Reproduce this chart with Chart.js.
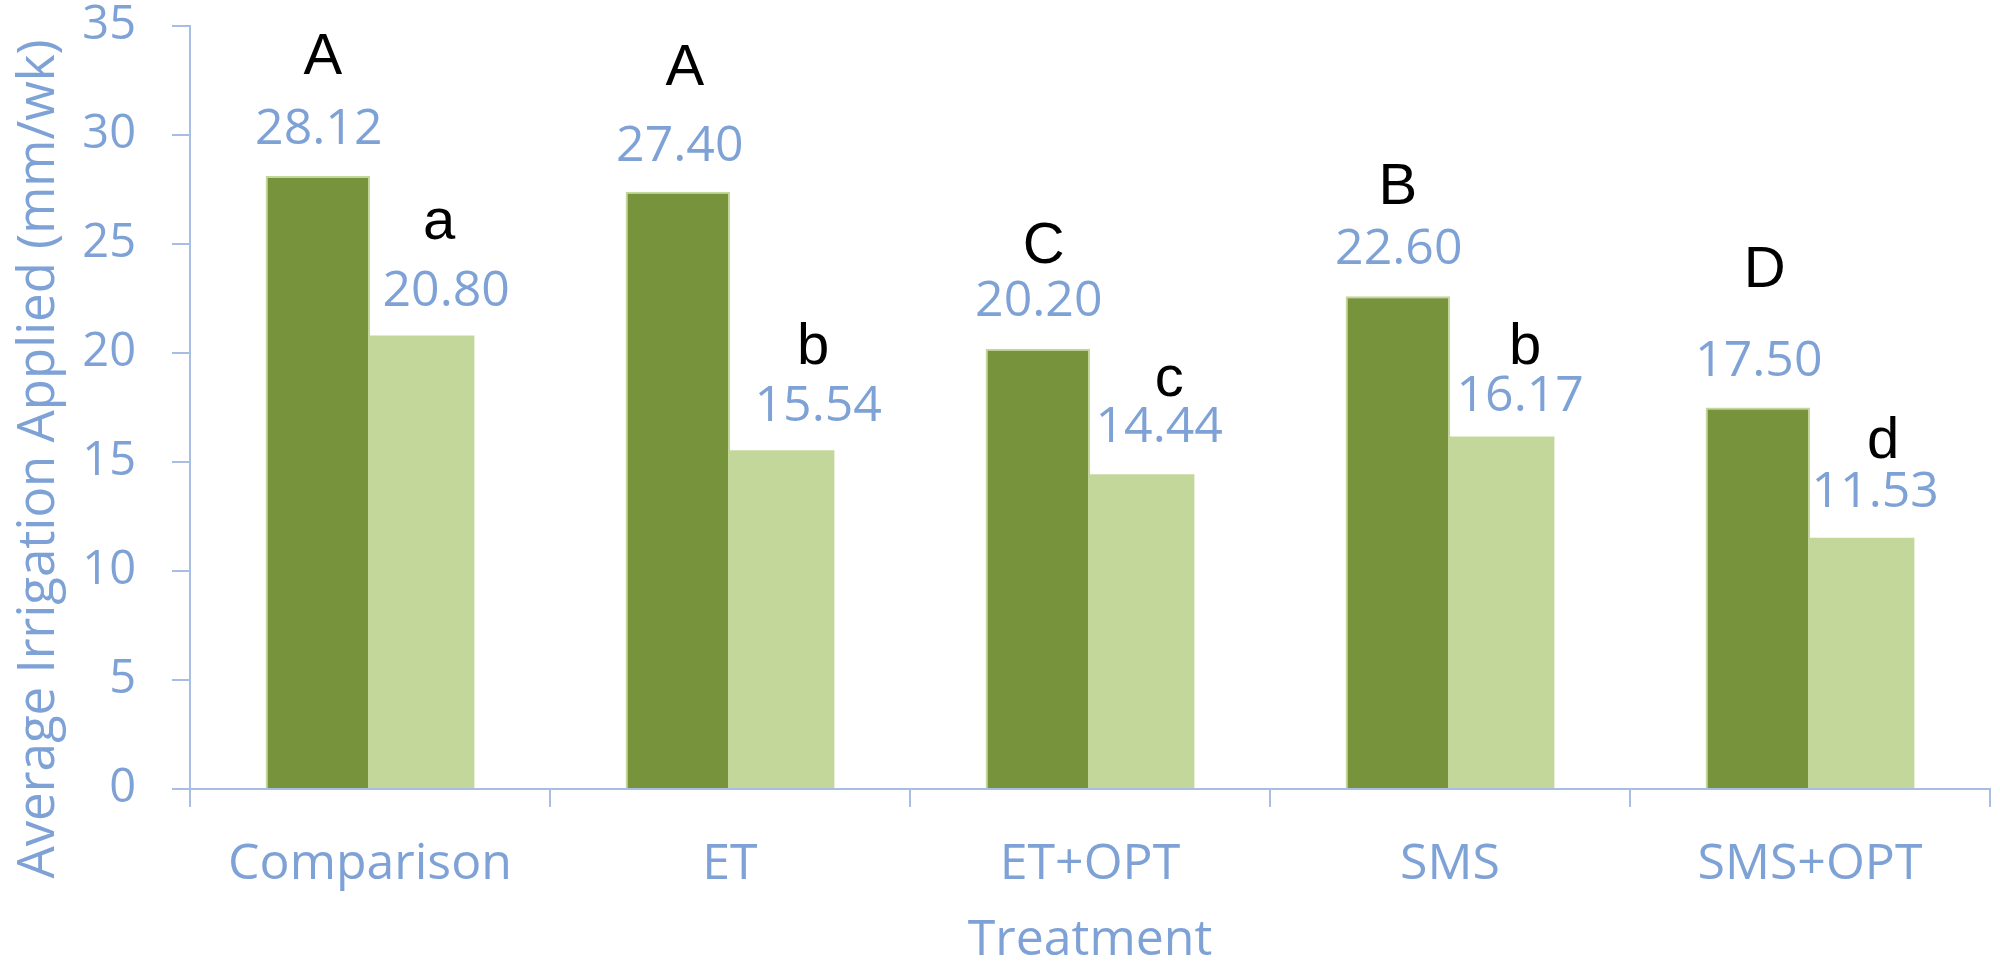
<!DOCTYPE html>
<html>
<head>
<meta charset="utf-8">
<script src="https://cdn.jsdelivr.net/npm/chart.js@4/dist/chart.umd.min.js"></script>
<style>
  html, body { margin: 0; padding: 0; background: #fff; }
  #wrap { width: 2000px; height: 967px; }
</style>
</head>
<body>
<div id="wrap"><canvas id="barChart" width="2000" height="967"></canvas></div>
<script>
// data
const treatments = ['Comparison', 'ET', 'ET+OPT', 'SMS', 'SMS+OPT'];
const darkValues = [28.12, 27.40, 20.20, 22.60, 17.50];
const lightValues = [20.80, 15.54, 14.44, 16.17, 11.53];
const darkLetters = ['A', 'A', 'C', 'B', 'D'];
const lightLetters = ['a', 'b', 'c', 'b', 'd'];
const yMin = 0, yMax = 35, yStep = 5;
const yTitle = 'Average Irrigation Applied (mm/wk)';
const xTitle = 'Treatment';

// label placement: baseline px above bar top and px right of bar centre
const valueLift = [[32, 31, 33, 32, 32], [30, 29, 32, 25, 31]];
const valueShift = [[1, 2, 1, 1, 1], [24, 36, 17, 18, 13]];
const letterLift = [[102, 107, 86, 92, 121], [97, 86, 78, 72, 80]];
const letterShift = [[5, 7, 6, 0, 7], [17, 31, 27, 23, 21]];

const blueText = '#7fa2d6';
const axisColor = '#a7bde2';
const darkGreen = '#77933c';
const lightGreen = '#c4d79b';

const barLabels = {
  id: 'barLabels',
  afterDatasetsDraw(chart) {
    const ctx = chart.ctx;
    const letterSets = [darkLetters, lightLetters];
    ctx.save();
    ctx.textAlign = 'center';
    ctx.textBaseline = 'alphabetic';
    chart.data.datasets.forEach((ds, i) => {
      const meta = chart.getDatasetMeta(i);
      meta.data.forEach((bar, j) => {
        ctx.fillStyle = blueText;
        ctx.font = '50px "Open Sans"';
        ctx.fillText(ds.data[j].toFixed(2), bar.x + valueShift[i][j], bar.y - valueLift[i][j]);
        ctx.fillStyle = '#000';
        ctx.font = '58px "Liberation Sans"';
        ctx.fillText(letterSets[i][j], bar.x + letterShift[i][j], bar.y - letterLift[i][j]);
      });
    });
    ctx.restore();
  },
  afterDraw(chart) {
    // y title sits a bit lower than the plot centre in the original
    const ctx = chart.ctx;
    ctx.save();
    ctx.fillStyle = blueText;
    ctx.font = '51px "Open Sans"';
    ctx.textAlign = 'center';
    ctx.textBaseline = 'alphabetic';
    ctx.translate(54, 459);
    ctx.rotate(-Math.PI / 2);
    ctx.fillText(yTitle, 0, 0);
    ctx.restore();
  }
};

const ctx = document.getElementById('barChart').getContext('2d');
new Chart(ctx, {
  type: 'bar',
  data: {
    labels: treatments,
    datasets: [{
      label: 'Series1',
      data: darkValues,
      backgroundColor: darkGreen,
      borderColor: lightGreen,
      borderWidth: 2,
      borderSkipped: 'bottom'
    }, {
      label: 'Series2',
      data: lightValues,
      backgroundColor: lightGreen,
      borderWidth: 0
    }]
  },
  options: {
    responsive: false,
    animation: false,
    layout: { padding: { top: 26, right: 10, left: 0, bottom: 0 } },
    datasets: {
      bar: { categoryPercentage: 0.58, barPercentage: 1.0 }
    },
    plugins: {
      legend: { display: false },
      tooltip: { enabled: false }
    },
    scales: {
      x: {
        grid: {
          offset: true,
          drawOnChartArea: false,
          drawTicks: true,
          tickLength: 18,
          color: axisColor,
          lineWidth: 2
        },
        border: { color: axisColor, width: 2 },
        ticks: {
          color: blueText,
          font: { family: 'Open Sans', size: 50 },
          padding: 28,
          maxRotation: 0
        },
        title: {
          display: true,
          text: xTitle,
          color: blueText,
          font: { family: 'Open Sans', size: 50, lineHeight: 1.05 },
          padding: { top: 4, bottom: 0 }
        },
        afterFit: scale => { scale.height = 967 - 789; }
      },
      y: {
        min: yMin,
        max: yMax,
        grid: {
          drawOnChartArea: false,
          drawTicks: true,
          tickLength: 18,
          color: axisColor,
          lineWidth: 2
        },
        border: { color: axisColor, width: 2 },
        ticks: {
          stepSize: yStep,
          color: blueText,
          font: { family: 'Open Sans', size: 47 },
          padding: 36
        },
        title: { display: false },
        afterFit: scale => {
          scale.width = 190;
          scale.paddingTop = 0;
          scale.paddingBottom = 0;
        }
      }
    }
  },
  plugins: [barLabels]
});
</script>
</body>
</html>
